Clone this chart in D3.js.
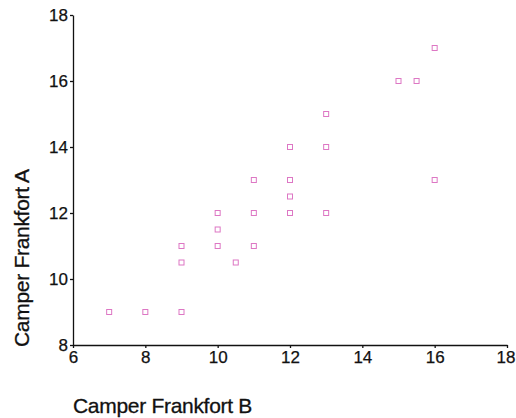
<!DOCTYPE html>
<html><head><meta charset="utf-8">
<script src="https://cdn.jsdelivr.net/npm/d3@7"></script>
<style>body{margin:0;background:#fff}svg{display:block}</style>
</head><body>
<svg id="c" width="516" height="418"></svg>
<script>
const frankfortB = [7, 8, 9, 9, 9, 10, 10, 10, 10.5, 11, 11, 11, 12, 12, 12, 12, 13, 13, 13, 15, 15.5, 16, 16];
const frankfortA = [9, 9, 9, 10.5, 11, 11, 11.5, 12, 10.5, 11, 12, 13, 12, 12.5, 13, 14, 12, 14, 15, 16, 16, 17, 13];
const xTicks = [6, 8, 10, 12, 14, 16, 18];
const yTicks = [8, 10, 12, 14, 16, 18];
const xTitle = "Camper Frankfort B";
const yTitle = "Camper Frankfort A";

const svg = d3.select("#c");
const x = d3.scaleLinear().domain([6, 18]).range([73, 507]);
const y = d3.scaleLinear().domain([8, 18]).range([345, 15]);
const font = "'Liberation Sans', Arial, sans-serif";

const xa = svg.append("g").attr("transform", `translate(0,${y(8)})`)
  .call(d3.axisBottom(x).tickValues(xTicks).tickSize(3).tickPadding(3).tickSizeOuter(0));
const ya = svg.append("g").attr("transform", `translate(${x(6)},0)`)
  .call(d3.axisLeft(y).tickValues(yTicks).tickSize(3).tickPadding(2).tickSizeOuter(0));
[xa, ya].forEach(g => {
  g.select(".domain").attr("stroke", "#111").attr("stroke-width", 1.3);
  g.selectAll(".tick line").attr("stroke", "#111").attr("stroke-width", 1.3);
  g.selectAll(".tick text").attr("fill", "#111").style("font-family", font).style("font-size", "17px")
    .attr("stroke", "#111").attr("stroke-width", 0.25);
});
xa.selectAll(".tick text").filter(d => d === 18).attr("dx", "-1.5");

svg.append("g").selectAll("rect").data(frankfortB.map((b, i) => [b, frankfortA[i]])).join("rect")
  .attr("x", d => x(d[0]) - 2.5).attr("y", d => y(d[1]) - 2.5)
  .attr("width", 5).attr("height", 5)
  .attr("fill", "none").attr("stroke", "#dd77c4").attr("stroke-width", 1);

svg.append("text").attr("x", 73).attr("y", 413).text(xTitle)
  .attr("fill", "#111").attr("stroke", "#111").attr("stroke-width", 0.3)
  .style("font-family", font).style("font-size", "21px").style("letter-spacing", "-0.3px");
svg.append("text").attr("transform", "translate(29,347) rotate(-90)").text(yTitle)
  .attr("fill", "#111").attr("stroke", "#111").attr("stroke-width", 0.3)
  .style("font-family", font).style("font-size", "21px").style("letter-spacing", "-0.3px");
</script>
</body></html>
